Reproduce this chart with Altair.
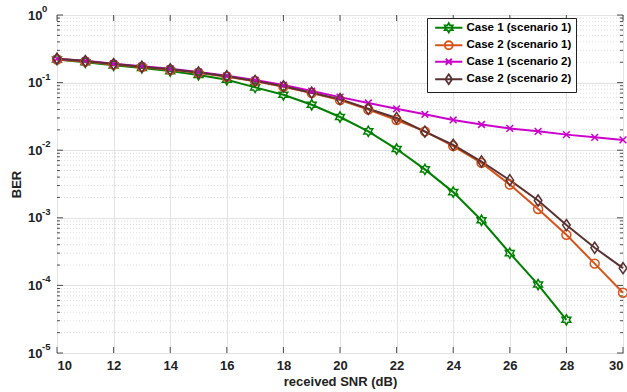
import math
import altair as alt
import pandas as pd

# ---------------- data ----------------
snr = list(range(10, 31))
series_names = ["Case 1 (scenario 1)", "Case 2 (scenario 1)",
                "Case 1 (scenario 2)", "Case 2 (scenario 2)"]
case1_s1 = [0.22, 0.20, 0.18, 0.165, 0.148, 0.13, 0.11, 0.085, 0.066, 0.047,
            0.031, 0.019, 0.0104, 0.0052, 0.0024, 0.00092, 0.0003, 0.000103, 0.000031]
case2_s1 = [0.22, 0.205, 0.185, 0.17, 0.155, 0.14, 0.122, 0.105, 0.087, 0.07,
            0.055, 0.04, 0.028, 0.019, 0.0115, 0.0065, 0.0031, 0.00135, 0.00056,
            0.00021, 0.000078]
case1_s2 = [0.225, 0.21, 0.19, 0.175, 0.16, 0.143, 0.126, 0.109, 0.092, 0.075,
            0.061, 0.05, 0.041, 0.034, 0.028, 0.024, 0.021, 0.019, 0.017,
            0.0155, 0.0142]
case2_s2 = [0.225, 0.208, 0.188, 0.172, 0.157, 0.141, 0.124, 0.106, 0.088, 0.071,
            0.057, 0.041, 0.03, 0.0188, 0.012, 0.0068, 0.0036, 0.0018, 0.00078,
            0.00036, 0.00018]
series_values = [case1_s1, case2_s1, case1_s2, case2_s2]

x_ticks = list(range(10, 31, 2))
y_decades = [1, 0.1, 0.01, 0.001, 0.0001, 0.00001]
y_exponents = ["0", "-1", "-2", "-3", "-4", "-5"]
y_minor = [m * 10.0 ** k for k in range(-5, 0) for m in range(2, 10)]

# ---------------- style ----------------
colors = ["#008000", "#D95319", "#CC00CC", "#5A3232"]
W, H = 566, 338
FONT = "Liberation Sans"


def hexagram(R=1.15):
    pts = []
    for i in range(12):
        a = math.pi / 2 + i * math.pi / 6
        r = R if i % 2 == 0 else R / math.sqrt(3)
        pts.append(f"{r * math.cos(a):.3f},{-r * math.sin(a):.3f}")
    return "M" + "L".join(pts) + "Z"


marker_paths = [
    hexagram(),
    "M1,0A1,1 0 1,1 -1,0A1,1 0 1,1 1,0Z",
    "M-0.75,-0.75L0.75,0.75M-0.75,0.75L0.75,-0.75",
    "M0,-1.25L0.85,0L0,1.25L-0.85,0Z",
]
legend_line = "M-3.4,0L3.4,0 "
legend_paths = [legend_line + p for p in marker_paths]

rows = []
for name, vals in zip(series_names, series_values):
    for s, v in zip(snr, vals):
        rows.append({"snr": s, "ber": v, "series": name})
df = pd.DataFrame(rows)

xscale = alt.Scale(domain=[10, 30], nice=False, zero=False)
yscale = alt.Scale(type="log", domain=[1e-5, 1], nice=False)

x_axis = alt.Axis(values=x_ticks, grid=True, gridColor="#e3e3e3", ticks=False,
                  domain=False, labelFont=FONT, labelFontSize=13,
                  labelFontWeight="bold", labelColor="#222", labelPadding=6,
                  title="received SNR (dB)", titleFont=FONT, titleFontSize=13,
                  titleFontWeight="bold", titleColor="#222", titlePadding=3)
y_axis = alt.Axis(values=y_decades, grid=True, gridColor="#e3e3e3", ticks=False,
                  domain=False, labelExpr="'10'", labelFont=FONT, labelFontSize=13,
                  labelFontWeight="bold", labelColor="#222", labelPadding=15,
                  title="BER", titleFont=FONT, titleFontSize=13,
                  titleFontWeight="bold", titleColor="#222", titlePadding=4)


def X():
    return alt.X("snr:Q", scale=xscale, axis=x_axis)


def Y():
    return alt.Y("ber:Q", scale=yscale, axis=y_axis)


color_enc = alt.Color("series:N", scale=alt.Scale(domain=series_names, range=colors),
                      legend=None)

minor_df = pd.DataFrame({"ber": y_minor})
major_df = pd.DataFrame({"ber": y_decades})
xt_df = pd.DataFrame({"snr": x_ticks})
exp_df = pd.DataFrame({"ber": y_decades, "e": y_exponents})

minor_grid = alt.Chart(minor_df).mark_rule(
    color="#d6d6d6", strokeDash=[1, 2], strokeWidth=0.8
).encode(y=Y())

tick_col = "#262626"
ticks = [
    alt.Chart(minor_df).mark_rule(color=tick_col, strokeWidth=0.8).encode(
        y=Y(), x=alt.value(0), x2=alt.value(3)),
    alt.Chart(minor_df).mark_rule(color=tick_col, strokeWidth=0.8).encode(
        y=Y(), x=alt.value(W - 3), x2=alt.value(W)),
    alt.Chart(major_df).mark_rule(color=tick_col, strokeWidth=0.8).encode(
        y=Y(), x=alt.value(0), x2=alt.value(6)),
    alt.Chart(major_df).mark_rule(color=tick_col, strokeWidth=0.8).encode(
        y=Y(), x=alt.value(W - 6), x2=alt.value(W)),
    alt.Chart(xt_df).mark_rule(color=tick_col, strokeWidth=0.8).encode(
        x=X(), y=alt.value(H - 6), y2=alt.value(H)),
    alt.Chart(xt_df).mark_rule(color=tick_col, strokeWidth=0.8).encode(
        x=X(), y=alt.value(0), y2=alt.value(6)),
]

exps = alt.Chart(exp_df).mark_text(
    align="left", baseline="alphabetic", dy=-3, fontSize=9.5, fontWeight="bold",
    font=FONT, color="#222"
).encode(y=Y(), x=alt.value(-15), text="e:N")

lines = alt.Chart(df).mark_line(strokeWidth=2).encode(
    x=X(), y=Y(), color=color_enc, detail="series:N")

points = alt.Chart(df).mark_point(filled=False, size=80, strokeWidth=1.5, opacity=1).encode(
    x=X(), y=Y(), color=color_enc,
    shape=alt.Shape("series:N", scale=alt.Scale(domain=series_names, range=marker_paths),
                    legend=None))

leg = alt.Legend(title=None, orient="none", legendX=370, legendY=3,
                 fillColor="white", strokeColor="#222", padding=4,
                 labelFont=FONT, labelFontSize=11.5, labelFontWeight="bold",
                 labelColor="black", symbolSize=64, symbolStrokeWidth=1.8,
                 symbolOffset=12, labelOffset=12, rowPadding=1.5,
                 symbolOpacity=1, cornerRadius=0)

legend_layer = alt.Chart(df).mark_point(filled=False, opacity=0).encode(
    x=X(), y=Y(),
    color=alt.Color("series:N", scale=alt.Scale(domain=series_names, range=colors),
                    legend=leg),
    shape=alt.Shape("series:N", scale=alt.Scale(domain=series_names, range=legend_paths),
                    legend=leg))

chart = alt.layer(
    minor_grid, *ticks, exps, lines, points, legend_layer
).resolve_scale(
    color="independent", shape="independent"
).properties(
    width=W, height=H,
    autosize=alt.AutoSizeParams(type="none"),
    padding={"left": 57, "top": 15, "right": 4, "bottom": 39},
    background="white",
).configure_view(stroke="#262626", strokeWidth=1)

chart.save("out.html", embed_options={"renderer": "svg", "actions": False})
